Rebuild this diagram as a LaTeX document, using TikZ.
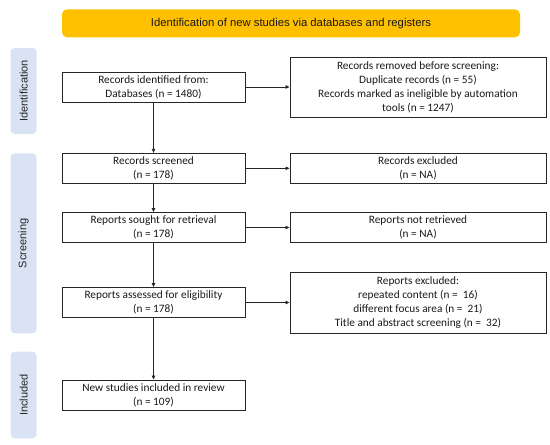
\documentclass[tikz,border=0pt]{standalone}
\usepackage{fontspec}
\setmainfont{Carlito}
\newfontfamily\arialf{Liberation Sans}
\usetikzlibrary{arrows.meta}
\definecolor{bannerorange}{HTML}{FFC000}
\definecolor{phaseblue}{HTML}{DAE3F3}
\definecolor{lineclr}{HTML}{262626}
\tikzset{
  flowbox/.style={draw=lineclr, line width=0.9pt, rectangle, inner sep=0pt, align=center,
    font=\fontsize{11.3}{14}\selectfont, text=black!90},
  leftbox/.style={flowbox, minimum width=183pt, minimum height=30pt},
  rightbox/.style={flowbox, minimum width=256pt},
  phase/.style={fill=phaseblue, rounded corners=4pt, minimum width=26pt, inner sep=0pt},
  phasetext/.style={rotate=90, font=\arialf\fontsize{11}{13}\selectfont, text=black!85},
  flowarrow/.style={draw=lineclr, line width=0.8pt, -{Triangle[length=4pt,width=3.5pt]}}
}
\begin{document}
\begin{tikzpicture}[x=1pt,y=-1pt]
\useasboundingbox (0,0) rectangle (550,445);
% banner
\node[fill=bannerorange, rounded corners=5pt, minimum width=458pt, minimum height=28pt,
  inner sep=0pt, font=\arialf\fontsize{11.3}{13}\selectfont, text=black!90] (banner) at (291,23.3)
  {Identification of new studies via databases and registers};
% phase labels
\node[phase, minimum height=86pt] (phid) at (23.6,91) {};
\node[phasetext] (phidt) at (phid.center) {Identification};
\node[phase, minimum height=180pt] (phsc) at (23.6,243.3) {};
\node[phasetext] (phsct) at (phsc.center) {Screening};
\node[phase, minimum height=86.6pt] (phin) at (23.6,395) {};
\node[phasetext] (phint) at (phin.center) {Included};
% left boxes
\node[leftbox] (ident) at (153.5,87) {Records identified from:\\Databases (n = 1480)};
\node[leftbox] (screen) at (153.5,168.3) {Records screened\\(n = 178)};
\node[leftbox] (sought) at (153.5,227.5) {Reports sought for retrieval\\(n = 178)};
\node[leftbox] (assess) at (153.5,302.5) {Reports assessed for eligibility\\(n = 178)};
\node[leftbox] (incl) at (153.5,395) {New studies included in review\\(n = 109)};
% right boxes
\node[rightbox, minimum height=60pt] (removed) at (418,87)
  {Records removed before screening:\\Duplicate records (n = 55)\\Records marked as ineligible by automation\\tools (n = 1247)};
\node[rightbox, minimum height=30pt] (excl) at (418,168.3) {Records excluded\\(n = NA)};
\node[rightbox, minimum height=30pt] (notret) at (418,227.5) {Reports not retrieved\\(n = NA)};
\node[rightbox, minimum height=60.6pt] (repexcl) at (418,303)
  {Reports excluded:\\repeated content (n =~ 16)\\different focus area (n =~ 21)\\Title and abstract screening (n =~ 32)};
% connectors
\draw[flowarrow] (ident) -- (removed);
\draw[flowarrow] (screen) -- (excl);
\draw[flowarrow] (sought) -- (notret);
\draw[flowarrow] (assess.east) -- (repexcl.west |- assess.east);
\draw[flowarrow] (ident) -- (screen);
\draw[flowarrow] (screen) -- (sought);
\draw[flowarrow] (sought) -- (assess);
\draw[flowarrow] (assess) -- (incl);
\end{tikzpicture}
\end{document}
